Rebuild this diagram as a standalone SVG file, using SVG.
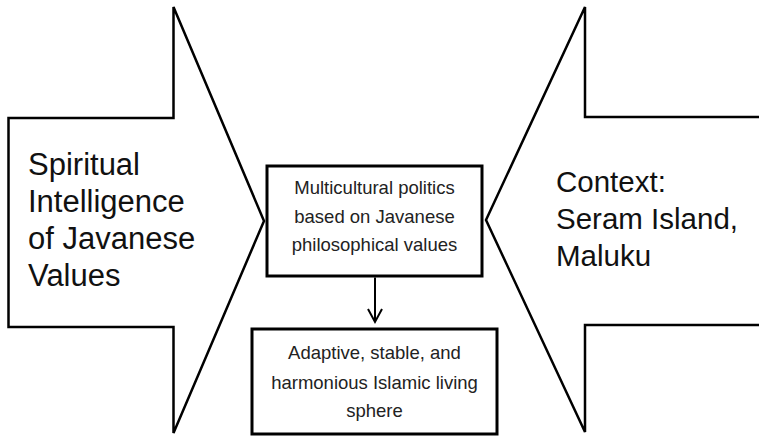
<svg xmlns="http://www.w3.org/2000/svg" width="759" height="436" viewBox="0 0 759 436">
<defs>
<style>
.shape{fill:#fff;stroke:#000;stroke-width:2.5;stroke-linejoin:miter}
.box{fill:#fff;stroke:#000;stroke-width:3}
.big{font-family:"Liberation Sans",Arial,sans-serif;font-size:30px;fill:#111}
.mid{font-family:"Liberation Sans",Arial,sans-serif;font-size:18.5px;fill:#222;text-anchor:middle}
.conn{fill:none;stroke:#000;stroke-width:2}
</style>
</defs>
<rect width="759" height="436" fill="#fff"/>
<g id="left-arrow">
<polygon class="shape" points="8.5,118 173.5,118 173.5,7 264,221 173.5,433 173.5,327 8.5,327"/>
<text class="big" style="font-size:31px"><tspan x="28" y="175">Spiritual</tspan><tspan x="28" y="212">Intelligence</tspan><tspan x="28" y="249">of Javanese</tspan><tspan x="28" y="286">Values</tspan></text>
</g>
<g id="right-arrow">
<polygon class="shape" points="486,220 585,7 585,117 775,117 775,325 585,325 585,432"/>
<text class="big" style="font-size:29.5px"><tspan x="556" y="192">Context:</tspan><tspan x="556" y="229">Seram Island,</tspan><tspan x="556" y="266">Maluku</tspan></text>
</g>
<g id="node-politics">
<rect class="box" x="267" y="166" width="215" height="110"/>
<text class="mid"><tspan x="374.5" y="194">Multicultural politics</tspan><tspan x="374.5" y="222.5">based on Javanese</tspan><tspan x="374.5" y="251">philosophical values</tspan></text>
</g>
<g id="node-sphere">
<rect class="box" x="252" y="329" width="245" height="105"/>
<text class="mid"><tspan x="374.5" y="359">Adaptive, stable, and</tspan><tspan x="374.5" y="389">harmonious Islamic living</tspan><tspan x="374.5" y="417">sphere</tspan></text>
</g>
<g id="connectors">
<line class="conn" x1="375" y1="277.5" x2="375" y2="322"/>
<polyline class="conn" points="368,309 375,322 382,309"/>
</g>
</svg>
